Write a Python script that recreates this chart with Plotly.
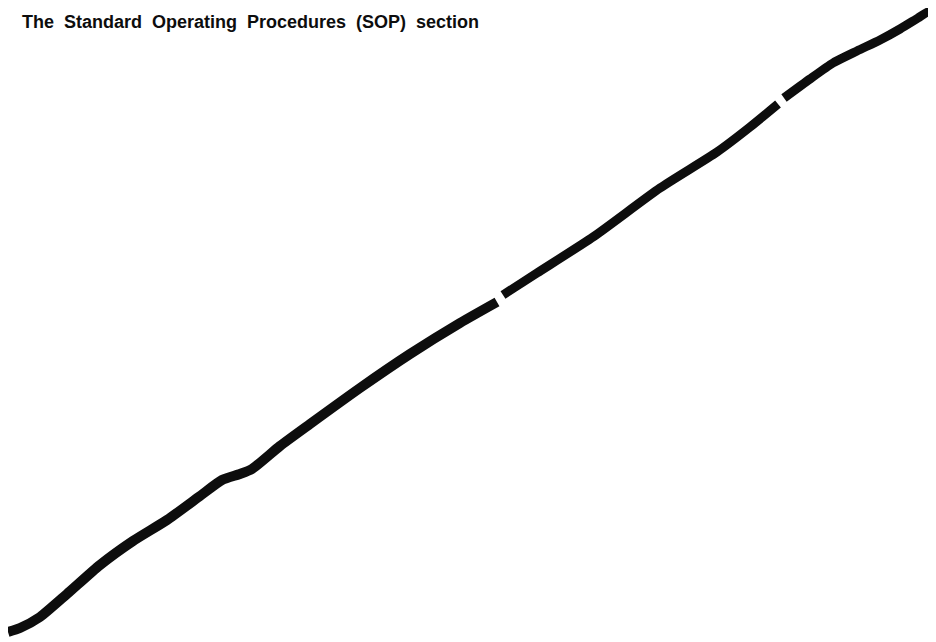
import plotly.graph_objects as go

# Curve (pixel-like coordinates, y downward)
seg1_x = [8, 20, 40, 67, 100, 133, 167, 200, 222, 240, 252, 280, 310, 360, 410, 460, 497]
seg1_y = [632, 628, 617, 594, 565, 541, 520, 496, 480, 474, 469, 446, 424, 388, 354, 323, 302]
seg2_x = [503, 537, 593, 660, 717, 750, 778]
seg2_y = [295, 273, 237, 188, 152, 127, 104]
seg3_x = [784, 810, 833, 857, 880, 900, 918, 928, 934]
seg3_y = [98, 79, 63, 51, 40, 29, 18, 12, 13]

title_text = "The Standard Operating Procedures (SOP) section"

# the page body has an 8px margin; offset the axis ranges so marks land where they are in the picture
OFF = 8

fig = go.Figure()
for xs, ys, w in [(seg1_x, seg1_y, 10), (seg2_x, seg2_y, 9), (seg3_x, seg3_y, 9)]:
    fig.add_trace(go.Scatter(x=xs, y=ys, mode="lines",
                             line=dict(color="#0d0d0d", width=w, shape="spline", smoothing=0.6),
                             hoverinfo="skip", showlegend=False))

fig.add_annotation(text="<b>" + title_text.replace(" ", "&nbsp;&nbsp;") + "</b>", xref="paper", yref="paper",
                   x=12 / 936, y=1 - 2 / 642, xanchor="left", yanchor="top", showarrow=False,
                   font=dict(family="Liberation Sans, Arial", size=18, color="#0d0d0d"))

fig.update_layout(width=936, height=642, margin=dict(l=0, r=0, t=0, b=0),
                  paper_bgcolor="white", plot_bgcolor="white",
                  xaxis=dict(range=[OFF, 936 + OFF], visible=False, fixedrange=True),
                  yaxis=dict(range=[642 + OFF, OFF], visible=False, fixedrange=True),
                  showlegend=False)
fig.write_html("out.html")
